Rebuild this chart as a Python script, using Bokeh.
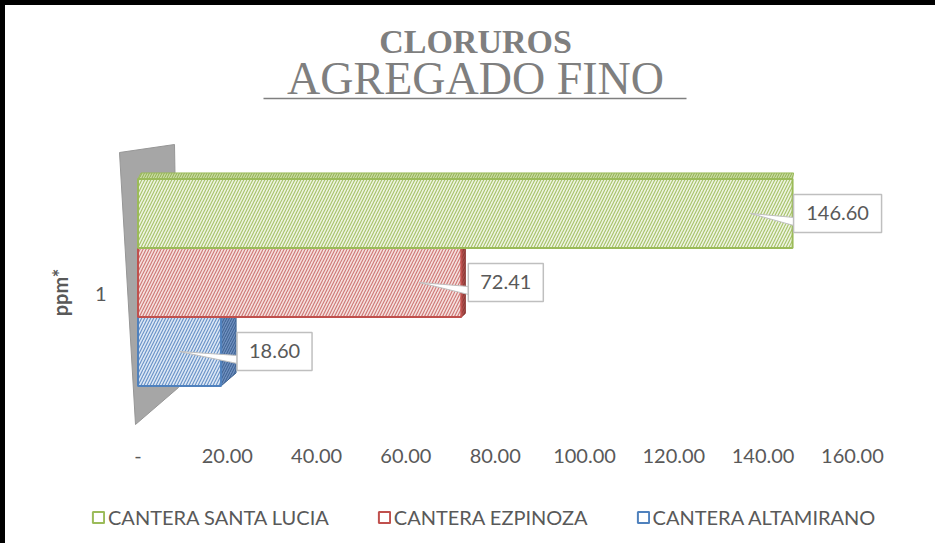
from bokeh.plotting import figure
from bokeh.layouts import column
from bokeh.models import (Range1d, FixedTicker, CustomJSTickFormatter, Legend,
                          LegendItem, ColumnDataSource)
from bokeh.core.properties import value
from bokeh.embed import file_html
from bokeh.resources import INLINE

# ---------------- data ----------------
title_main = "CLORUROS"
title_sub = "AGREGADO FINO"
series = ["CANTERA SANTA LUCIA", "CANTERA EZPINOZA", "CANTERA ALTAMIRANO"]
values = [146.60, 72.41, 18.60]
category = 1
y_axis_title = "ppm*"
x_ticks = [0, 20, 40, 60, 80, 100, 120, 140, 160]

# ---------------- styles ----------------
line_colors = ["#9bbb59", "#c0504d", "#4f81bd"]
fill_colors = ["#eef4e2", "#f5e1e0", "#dde8f5"]
hatch_colors = ["#a9c46c", "#d07a77", "#6b94c8"]
side_fill = ["#9fb86a", "#a8504d", "#6f8fbf"]
side_hatch = ["#7d9640", "#8a3532", "#3a5f8f"]
TEXT = "#595959"
W = 930
ORIGIN = 13                     # page offset of the canvas (margin + border)
TITLE_BOTTOM = 150              # page y where the chart part starts
CHART_BOTTOM = 490              # page y where the legend part starts
PAGE_BOTTOM = 551

# pixel geometry (page coordinates) used only for layout
PX = 4.465          # pixels per x unit
X0 = 145.5          # page x of value 0
PY = 276.0          # pixels per y unit
Y1 = 301.0          # page y of category 1
FRAME_L, FRAME_R, FRAME_B = 120, 892, 450
MB_L = FRAME_L - ORIGIN
MB_R = W - (FRAME_R - ORIGIN)


def X(px):
    return (px - X0) / PX


def Y(py):
    return 1 + (Y1 - py) / PY


def dx(p):
    return p / PX


def dy(p):
    return p / PY


def bare(fig):
    fig.title.visible = False
    fig.grid.visible = False
    fig.outline_line_color = None
    fig.min_border = 0
    return fig


# ================= title part =================
tfig = bare(figure(width=W, height=TITLE_BOTTOM - ORIGIN,
                   x_range=Range1d(FRAME_L, FRAME_R), y_range=Range1d(TITLE_BOTTOM, ORIGIN),
                   x_axis_location=None, y_axis_location=None,
                   output_backend="svg", toolbar_location=None))
tfig.min_border_left = MB_L
tfig.min_border_right = MB_R
tfig.text(x=[483], y=[49], text=[title_main], text_font=value("Liberation Serif"),
          text_font_style="bold", text_font_size="34px", text_color="#7f7f7f",
          text_align="center", text_baseline="middle")
tfig.text(x=[483], y=[86], text=[title_sub], text_font=value("Liberation Serif"),
          text_font_size="46px", text_color="#7f7f7f",
          text_align="center", text_baseline="middle")
tfig.segment(x0=[271], x1=[694], y0=[106], y1=[106], line_color="#7f7f7f", line_width=1.5)

# ================= chart part =================
p = figure(width=W, height=CHART_BOTTOM - TITLE_BOTTOM,
           x_range=Range1d(X(FRAME_L), X(FRAME_R)),
           y_range=Range1d(Y(FRAME_B), Y(TITLE_BOTTOM)), output_backend="svg",
           toolbar_location=None)
p.title.visible = False
p.grid.visible = False
p.outline_line_color = None
p.min_border_left = MB_L
p.min_border_right = MB_R
p.min_border_top = 0
p.min_border_bottom = CHART_BOTTOM - FRAME_B

xa = p.xaxis[0]
xa.ticker = FixedTicker(ticks=x_ticks)
xa.formatter = CustomJSTickFormatter(code="return tick == 0 ? '-' : tick.toFixed(2);")
xa.axis_line_color = None
xa.major_tick_line_color = None
xa.minor_tick_line_color = None
xa.major_label_standoff = 0
xa.major_label_text_font = "Lato"
xa.major_label_text_font_size = "20px"
xa.major_label_text_color = TEXT

ya = p.yaxis[0]
ya.ticker = FixedTicker(ticks=[category])
ya.axis_line_color = None
ya.major_tick_line_color = None
ya.minor_tick_line_color = None
ya.major_label_standoff = 0
ya.major_label_text_font = "Lato"
ya.major_label_text_font_size = "20px"
ya.major_label_text_color = TEXT
ya.axis_label = y_axis_title
ya.axis_label_text_font = "Lato"
ya.axis_label_text_font_style = "bold"
ya.axis_label_text_font_size = "20px"
ya.axis_label_text_color = TEXT
ya.axis_label_standoff = 20

# wall
wall_px = [(127, 160), (182, 152), (186, 395), (143, 432)]
p.patch(x=[X(a) for a, b in wall_px], y=[Y(b) for a, b in wall_px],
        fill_color="#a6a6a6", line_color="#969696", line_width=1)

# bars
BAR_H = 0.25
centers = [category + 0.04 + BAR_H * (1 - i) for i in range(len(values))]
tops = [c + BAR_H / 2 for c in centers]
bots = [c - BAR_H / 2 for c in centers]

sx, sy, sf, sh = [], [], [], []
for i, v in enumerate(values):
    depth = 0.0458 * (92 - v)
    if depth > 0:
        ddy = dy(depth * PX * 0.87)
        sx.append([v, v, v + depth, v + depth])
        sy.append([bots[i], tops[i], tops[i] + ddy, bots[i] + ddy])
        sf.append(side_fill[i])
        sh.append(side_hatch[i])
p.patches(xs=sx, ys=sy, fill_color=sf, line_color=sh, line_width=1,
          hatch_pattern="/", hatch_color=sh, hatch_scale=5, hatch_weight=1)

v0 = values[0]
p.patch(x=[0, v0, v0 + dx(1), dx(3)], y=[tops[0], tops[0], tops[0] + dy(6), tops[0] + dy(6)],
        fill_color="#c9dba3", line_color="#9bbb59", line_width=1,
        hatch_pattern="/", hatch_color="#8fae4e", hatch_scale=5, hatch_weight=1)

order = list(range(len(values)))[::-1]
src = ColumnDataSource(dict(
    y=[centers[i] for i in order], right=[values[i] for i in order],
    fill=[fill_colors[i] for i in order], line=[line_colors[i] for i in order],
    hatch=[hatch_colors[i] for i in order]))
p.hbar(y="y", left=0, right="right", height=BAR_H, source=src,
       fill_color="fill", line_color="line", line_width=2,
       hatch_pattern="/", hatch_color="hatch", hatch_scale=6, hatch_weight=1.2)

# data labels (callouts)
labels = ["%.2f" % v for v in values]
gaps = [1, 7, 16]
box_l = [v + dx(g) for v, g in zip(values, gaps)]
box_w = [dx(13 * len(t) + 10) for t in labels]
box_c = [l + w / 2 for l, w in zip(box_l, box_w)]
ptr_x = [[v - dx(42), l, l] for v, l in zip(values, box_l)]
ptr_y = [[c, c - dy(4), c - dy(12)] for c in centers]
p.patches(xs=ptr_x, ys=ptr_y, fill_color="white", line_color="#bfbfbf", line_width=1)
p.rect(x=box_c, y=centers, width=box_w, height=dy(38), fill_color="white",
       line_color="#bfbfbf", line_width=1.5)
p.text(x=box_c, y=centers, text=labels, text_font=value("Lato"), text_font_size="20px",
       text_color=TEXT, text_align="center", text_baseline="middle")

# ================= legend part =================
LH = PAGE_BOTTOM - CHART_BOTTOM
lfig = bare(figure(width=W, height=LH, x_range=Range1d(0, 1), y_range=Range1d(0, 1),
                   x_axis_location=None, y_axis_location=None,
                   output_backend="svg", toolbar_location=None))
if "frame_align" in lfig.properties():
    lfig.frame_align = False
    leg_x, leg_spacing = 99 - ORIGIN, 48
else:
    lfig.min_border_left = MB_L
    lfig.min_border_right = MB_R
    leg_x, leg_spacing = 0, 34

nan = float("nan")
items = []
for name, c in zip(series, line_colors):
    r = lfig.quad(left=[nan], right=[nan], top=[nan], bottom=[nan],
                  fill_alpha=0, line_color=c, line_width=2)
    items.append(LegendItem(label=name, renderers=[r]))
legend = Legend(items=items, orientation="horizontal",
                location=(leg_x, LH - (525 - CHART_BOTTOM) - 12),
                glyph_width=14, glyph_height=14, label_standoff=3, spacing=leg_spacing,
                padding=0, margin=0, border_line_color=None, background_fill_alpha=0,
                label_text_font="Lato", label_text_font_size="20px", label_text_color=TEXT)
lfig.add_layout(legend)

layout = column(tfig, p, lfig, spacing=0)
layout.styles = {"border-top": "5px solid black", "border-left": "5px solid black"}

open("out.html", "w").write(file_html(layout, INLINE))
